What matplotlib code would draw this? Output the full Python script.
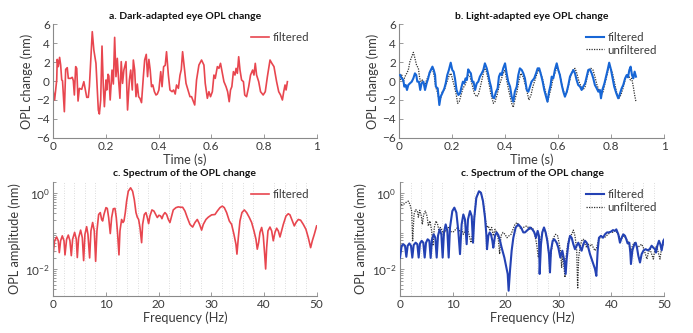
import numpy as np
import matplotlib
matplotlib.use('Agg')
import matplotlib.pyplot as plt
from matplotlib.ticker import MultipleLocator, FixedLocator, LogLocator, NullFormatter

plt.rcParams['font.family'] = ['Lato', 'DejaVu Sans']
plt.rcParams['mathtext.fontset'] = 'custom'
plt.rcParams['mathtext.rm'] = 'Lato'
plt.rcParams['mathtext.it'] = 'Lato:italic'
plt.rcParams['mathtext.bf'] = 'Lato:bold'

# ---------------- data ----------------
# a. dark-adapted eye, filtered OPL change (time s, nm)
a_t = [0.000, 0.005, 0.013, 0.015, 0.019, 0.024, 0.028, 0.032, 0.035, 0.042, 0.047, 0.053, 0.057, 0.066,
       0.072, 0.076, 0.080, 0.085, 0.089, 0.094, 0.099, 0.108, 0.116, 0.127, 0.133, 0.137, 0.148, 0.154,
       0.162, 0.171, 0.175, 0.180, 0.185, 0.190, 0.194, 0.200, 0.203, 0.208, 0.211, 0.216, 0.223, 0.228,
       0.233, 0.238, 0.243, 0.248, 0.253, 0.258, 0.263, 0.268, 0.276, 0.282, 0.289, 0.294, 0.300, 0.304,
       0.309, 0.314, 0.319, 0.324, 0.329, 0.335, 0.342, 0.347, 0.353, 0.358, 0.363, 0.368, 0.373, 0.378,
       0.384, 0.390, 0.395, 0.401, 0.408, 0.413, 0.419, 0.425, 0.430, 0.437, 0.443, 0.451, 0.457, 0.463,
       0.468, 0.475, 0.481, 0.486, 0.491, 0.504, 0.519, 0.525, 0.537, 0.544, 0.553, 0.563, 0.572, 0.577,
       0.585, 0.591, 0.597, 0.604, 0.610, 0.615, 0.623, 0.629, 0.635, 0.642, 0.648, 0.656, 0.662, 0.668,
       0.673, 0.678, 0.684, 0.690, 0.694, 0.699, 0.704, 0.709, 0.715, 0.722, 0.727, 0.734, 0.742, 0.749,
       0.757, 0.762, 0.767, 0.772, 0.780, 0.787, 0.797, 0.805, 0.813, 0.823, 0.830, 0.838, 0.848, 0.856,
       0.863, 0.870, 0.875, 0.880, 0.884, 0.889]
a_filtered = [-1.13, -2.01, 0.11, 2.29, 1.52, 2.50, 1.69, 0.11, 0.04, -3.25, 1.23, 1.41, 0.28, 0.28,
              0.39, 0.04, -1.48, 1.52, 1.34, -2.12, -0.78, -0.88, -0.07, -1.73, -1.73, -0.60, 5.22, 3.28,
              1.87, -3.07, -3.49, -2.01, 3.70, -0.60, -2.72, 0.11, -0.95, 0.71, 0.53, -2.01, 1.16, -0.32,
              4.62, 0.46, 2.40, 0.11, -1.83, 2.05, -0.25, 1.16, 2.05, -3.07, 0.11, 1.16, -0.95, 2.22,
              1.16, -1.66, -0.32, -1.66, -1.83, -2.29, 0.46, 2.22, 2.82, 0.46, 2.29, 1.16, -0.60, -0.42,
              -1.13, -1.48, -1.38, -0.95, 0.99, -0.60, 1.52, 1.66, 3.10, 0.63, -0.95, -1.13, -0.95, -1.38,
              -0.42, -0.78, 0.60, 1.20, 3.10, -0.25, -1.66, -1.66, -2.54, 0.11, 1.69, 2.22, 1.69, -0.25,
              -1.83, -1.13, -1.66, -1.13, 0.63, 0.28, 1.52, 1.34, 1.87, 0.81, -0.07, -0.60, -1.13, -2.19,
              -0.95, -0.60, 0.99, 0.63, 1.34, 0.81, 2.57, 1.16, 0.11, -0.07, -1.48, -1.66, -0.60, 0.63,
              1.16, 0.63, 1.87, 0.63, -0.07, -1.13, -1.48, -1.13, 0.46, 2.22, 1.87, 1.52, -0.07, -1.13,
              -1.48, -2.01, -1.13, -0.42, -0.95, -0.07]

# b. light-adapted eye, filtered (time s, nm)
b_t_f = [0.003, 0.009, 0.015, 0.019, 0.024, 0.029, 0.034, 0.040, 0.047, 0.053, 0.059, 0.064, 0.068, 0.074,
         0.079, 0.084, 0.091, 0.097, 0.103, 0.109, 0.114, 0.119, 0.125, 0.130, 0.135, 0.138, 0.145, 0.151,
         0.156, 0.162, 0.170, 0.175, 0.181, 0.187, 0.194, 0.200, 0.205, 0.210, 0.216, 0.223, 0.229, 0.235,
         0.240, 0.245, 0.250, 0.255, 0.260, 0.265, 0.270, 0.275, 0.280, 0.286, 0.292, 0.298, 0.304, 0.311,
         0.317, 0.323, 0.330, 0.336, 0.341, 0.346, 0.352, 0.358, 0.365, 0.371, 0.376, 0.381, 0.386, 0.392,
         0.399, 0.405, 0.411, 0.418, 0.424, 0.430, 0.436, 0.443, 0.449, 0.455, 0.462, 0.468, 0.474, 0.481,
         0.487, 0.493, 0.499, 0.509, 0.516, 0.522, 0.528, 0.535, 0.541, 0.547, 0.554, 0.559, 0.565, 0.571,
         0.575, 0.581, 0.587, 0.594, 0.600, 0.606, 0.613, 0.619, 0.625, 0.632, 0.638, 0.644, 0.650, 0.657,
         0.663, 0.669, 0.675, 0.682, 0.688, 0.694, 0.701, 0.707, 0.713, 0.719, 0.726, 0.732, 0.738, 0.745,
         0.751, 0.757, 0.761, 0.766, 0.774, 0.780, 0.786, 0.792, 0.799, 0.805, 0.811, 0.819, 0.826, 0.833,
         0.839, 0.845, 0.852, 0.858, 0.863, 0.868, 0.873, 0.878, 0.883, 0.888, 0.893]
b_filtered = [0.63, 0.28, 0.11, -0.60, -0.42, -0.95, -0.42, -0.25, -0.07, 0.28, 0.81, 0.63, -0.07, -0.07,
              -0.95, -0.25, -0.07, -0.95, -0.25, 0.28, 0.88, 1.16, 1.52, 1.16, 0.63, -0.60, -0.78, -2.54,
              -1.66, -1.31, -0.78, -0.25, 0.63, 1.16, 1.94, 1.16, 0.99, 0.28, -0.95, -1.48, -1.31, -0.60,
              -0.07, -0.25, 0.28, 0.11, 1.23, 0.99, 0.81, -0.07, -0.07, -0.95, -0.25, -0.07, 0.46, 0.81,
              1.16, 1.87, 1.34, 0.63, -0.07, -0.60, -1.66, -1.83, -1.13, -0.78, 0.46, 0.81, 0.63, 1.34,
              1.87, 0.81, -0.07, -0.60, -1.66, -2.19, -1.13, -0.60, 0.63, 1.34, 1.16, 0.81, 0.28, -0.95,
              -1.13, -0.60, -0.07, 0.28, 0.81, 1.34, 1.34, 0.63, -0.07, -0.95, -1.66, -2.19, -1.13, -0.42,
              0.46, 0.28, 1.16, 1.87, 1.16, 0.63, -0.42, -1.13, -1.66, -1.13, -0.42, 0.46, 0.81, 1.16,
              0.81, 0.11, -0.42, -0.60, -0.95, -0.60, -0.25, 0.46, 1.16, 1.23, 0.81, 0.28, -0.42, -0.78,
              -1.13, -0.95, -1.83, -0.95, -0.25, 0.46, 1.16, 1.94, 1.16, 0.28, -0.60, -1.31, -1.83, -1.31,
              -0.78, -0.42, 0.28, 0.63, 0.39, 1.16, 1.52, 0.63, 0.28, 0.99, 0.46]

# b. light-adapted eye, unfiltered (time s, nm)
b_t_u = [0.003, 0.009, 0.015, 0.021, 0.028, 0.034, 0.040, 0.047, 0.053, 0.059, 0.065, 0.072, 0.077, 0.082,
         0.087, 0.092, 0.097, 0.103, 0.109, 0.116, 0.122, 0.128, 0.132, 0.137, 0.143, 0.150, 0.156, 0.162,
         0.170, 0.176, 0.182, 0.189, 0.195, 0.200, 0.208, 0.214, 0.220, 0.226, 0.233, 0.240, 0.248, 0.254,
         0.260, 0.267, 0.275, 0.283, 0.292, 0.298, 0.306, 0.313, 0.321, 0.327, 0.336, 0.345, 0.355, 0.361,
         0.369, 0.376, 0.384, 0.392, 0.399, 0.405, 0.414, 0.424, 0.430, 0.436, 0.444, 0.452, 0.459, 0.467,
         0.474, 0.482, 0.489, 0.497, 0.504, 0.512, 0.520, 0.526, 0.532, 0.540, 0.547, 0.555, 0.560, 0.566,
         0.574, 0.580, 0.587, 0.595, 0.603, 0.610, 0.618, 0.625, 0.633, 0.640, 0.648, 0.655, 0.663, 0.670,
         0.678, 0.686, 0.693, 0.701, 0.708, 0.716, 0.723, 0.731, 0.738, 0.746, 0.753, 0.761, 0.769, 0.776,
         0.784, 0.791, 0.799, 0.806, 0.814, 0.821, 0.829, 0.836, 0.844, 0.852, 0.859, 0.867, 0.872, 0.877,
         0.883, 0.888, 0.893]
b_unfiltered = [0.11, 0.63, -0.07, 0.46, 0.81, 1.16, 2.05, 2.57, 3.03, 2.40, 1.69, 1.34, 0.28, -0.07,
                0.11, -0.25, -0.42, 0.11, 0.46, 0.81, 1.34, 0.99, 0.46, -0.60, -1.13, -2.01, -1.83, -1.13,
                -0.95, -0.42, 0.11, 0.63, 0.81, 0.28, -0.60, -1.31, -2.36, -2.19, -1.48, -0.78, -0.42, 0.11,
                0.63, 0.46, -0.42, -1.31, -1.66, -1.48, -0.60, 0.28, 1.34, 1.16, 0.11, -1.31, -2.36, -2.19,
                -1.48, -0.60, 0.11, 0.81, 1.16, 0.11, -1.13, -2.36, -2.79, -2.01, -1.13, 0.11, 0.81, 0.46,
                -0.25, -1.13, -2.01, -1.48, -0.60, 0.11, 0.81, 1.23, 0.99, 0.28, -0.60, -1.48, -2.19, -1.48,
                -0.60, 0.28, 0.81, 1.52, 0.99, 0.11, -0.95, -1.48, -1.13, -0.25, 0.63, 1.16, 1.34, 0.81,
                -0.07, -0.60, -0.95, -0.60, 0.28, 1.23, 1.34, 1.16, 0.46, -0.42, -0.95, -1.48, -1.13, -0.25,
                0.63, 1.52, 1.34, 0.63, -0.42, -1.31, -1.83, -1.48, -0.78, 0.11, 0.63, 0.46, 0.11, 0.28,
                -0.60, -1.48, -2.19]

# c. spectrum, dark-adapted filtered (Hz, log10 of amplitude in nm)
c_f = [0.00, 0.25, 0.63, 0.95, 1.14, 1.39, 1.71, 2.03, 2.22, 2.53, 2.85, 3.16, 3.42, 3.67, 4.05, 4.37, 4.56,
       4.81, 5.19, 5.51, 5.76, 6.01, 6.33, 6.58, 6.90, 7.15, 7.47, 7.78, 8.04, 8.29, 8.61, 8.92, 9.18, 9.37,
       9.62, 10.00, 10.25, 10.51, 10.82, 11.08, 11.39, 11.71, 11.96, 12.22, 12.47, 12.66, 12.97, 13.23, 13.42,
       13.67, 13.92, 14.24, 14.68, 15.06, 15.38, 15.70, 15.95, 16.20, 16.46, 16.77, 16.96, 17.28, 17.59, 17.85,
       18.10, 18.35, 18.73, 19.11, 19.49, 19.75, 20.06, 20.38, 20.63, 20.89, 21.20, 21.52, 21.84, 22.15, 22.47,
       22.78, 23.29, 23.73, 24.18, 24.56, 25.00, 25.44, 25.95, 26.46, 26.90, 27.34, 27.72, 28.16, 28.48, 28.99,
       29.43, 30.06, 30.70, 31.14, 31.65, 32.09, 32.47, 32.91, 33.42, 33.86, 34.30, 34.68, 34.87, 35.13, 35.44,
       35.82, 36.27, 36.71, 37.22, 37.66, 38.10, 38.48, 38.73, 38.99, 39.24, 39.56, 39.87, 40.13, 40.32, 40.51,
       40.76, 41.14, 41.46, 41.77, 42.09, 42.41, 42.72, 43.04, 43.35, 43.67, 44.18, 44.62, 44.94, 45.38, 45.76,
       46.08, 46.52, 46.96, 47.47, 47.97, 48.42, 48.86, 49.18, 49.56, 50.00]
c_log_amp = [-1.56, -1.25, -1.15, -1.25, -1.56, -1.25, -1.12, -1.25, -1.62, -1.21, -1.10, -1.25, -1.64, -1.21,
             -1.03, -1.21, -1.69, -1.17, -0.97, -1.17, -1.77, -1.08, -0.88, -1.08, -1.70, -0.99, -0.77, -0.99,
             -1.79, -0.99, -0.56, -0.51, -0.69, -0.73, -0.56, -0.38, -0.40, -0.64, -1.06, -0.64, -0.41, -0.40,
             -0.64, -1.08, -1.62, -0.99, -0.69, -0.77, -0.73, -0.51, -0.21, 0.05, 0.14, 0.05, -0.17, -0.51,
             -0.63, -0.69, -0.90, -1.30, -0.82, -0.56, -0.51, -0.64, -0.80, -0.60, -0.44, -0.47, -0.57, -0.64,
             -0.58, -0.60, -0.67, -0.57, -0.51, -0.56, -0.69, -0.77, -0.60, -0.44, -0.38, -0.36, -0.37, -0.37,
             -0.47, -0.64, -0.82, -0.89, -0.77, -0.69, -0.80, -0.97, -0.82, -0.69, -0.63, -0.57, -0.56, -0.47,
             -0.38, -0.34, -0.38, -0.51, -0.73, -0.82, -1.08, -1.34, -1.60, -1.17, -0.73, -0.51, -0.44, -0.51,
             -0.64, -0.77, -0.99, -1.21, -1.47, -1.30, -1.03, -0.90, -1.12, -1.60, -1.99, -1.43, -0.99, -0.89,
             -0.99, -1.25, -1.03, -0.92, -0.99, -1.15, -0.99, -0.82, -0.60, -0.54, -0.57, -0.73, -0.86, -0.77,
             -0.69, -0.71, -0.82, -0.95, -1.17, -1.43, -1.25, -1.08, -0.86]

# d. spectrum, light-adapted filtered (Hz, log10 amplitude)
d_f_f = [0.00, 0.32, 0.63, 0.95, 1.20, 1.45, 1.77, 2.08, 2.33, 2.59, 2.96, 3.28, 3.53, 3.78, 4.10, 4.41, 4.67,
         4.92, 5.23, 5.55, 5.80, 6.05, 6.37, 6.68, 6.94, 7.19, 7.50, 7.82, 8.07, 8.32, 8.64, 8.95, 9.21, 9.46,
         9.90, 10.28, 10.66, 11.03, 11.35, 11.66, 11.98, 12.29, 12.61, 12.86, 13.24, 13.56, 13.81, 14.06, 14.44,
         14.94, 15.32, 15.70, 16.08, 16.33, 16.46, 16.71, 16.96, 17.21, 17.47, 17.65, 17.97, 18.28, 18.60, 18.92,
         19.23, 19.74, 20.05, 20.37, 20.55, 20.81, 21.12, 21.44, 21.88, 22.38, 22.89, 23.33, 23.64, 24.27, 24.59,
         25.03, 25.41, 25.73, 26.04, 26.29, 26.42, 26.67, 26.92, 27.24, 27.55, 27.87, 28.18, 28.37, 28.56, 28.88,
         29.19, 29.63, 29.95, 30.33, 30.71, 31.08, 31.34, 31.53, 31.84, 32.16, 32.47, 32.79, 33.10, 33.42, 33.73,
         34.11, 34.36, 34.68, 35.00, 35.31, 35.62, 35.94, 36.25, 36.57, 36.89, 37.14, 37.39, 37.64, 38.02, 38.40,
         38.78, 39.16, 39.53, 39.91, 40.29, 40.67, 40.92, 41.30, 41.61, 41.93, 42.24, 42.56, 42.81, 43.06, 43.38,
         43.57, 43.69, 43.95, 44.33, 44.58, 44.83, 45.08, 45.40, 45.71, 46.09, 46.47, 46.85, 47.23, 47.60, 47.92,
         48.23, 48.42, 48.68, 48.99, 49.24, 49.50, 49.81, 50.00]
d_log_filtered = [-1.69, -1.38, -1.34, -1.38, -1.67, -1.38, -1.32, -1.38, -1.69, -1.36, -1.30, -1.34, -1.69,
                  -1.32, -1.25, -1.30, -1.69, -1.30, -1.21, -1.25, -1.70, -1.21, -1.08, -1.17, -1.69, -1.12,
                  -0.95, -1.08, -1.69, -1.03, -0.82, -0.99, -1.69, -0.90, -0.47, -0.38, -0.51, -0.99, -1.60,
                  -0.82, -0.56, -0.69, -1.34, -0.69, -0.47, -0.60, -1.30, -0.64, -0.12, 0.05, 0.01, -0.21,
                  -0.64, -1.08, -1.47, -1.12, -1.03, -1.08, -1.25, -1.43, -1.12, -1.03, -1.10, -1.25, -1.43,
                  -1.69, -1.90, -2.12, -2.56, -2.03, -1.51, -1.17, -0.90, -0.82, -0.90, -1.03, -1.03, -0.95,
                  -0.90, -0.95, -1.03, -1.17, -0.99, -1.12, -2.12, -1.34, -1.03, -0.90, -1.03, -1.25, -1.60,
                  -2.08, -1.51, -1.25, -1.21, -1.30, -1.43, -1.69, -1.51, -1.77, -2.12, -1.73, -1.34, -1.12,
                  -1.17, -1.34, -1.47, -1.38, -1.30, -1.43, -1.51, -1.34, -1.25, -1.30, -1.43, -1.60, -1.73,
                  -1.86, -1.99, -2.17, -1.51, -1.17, -1.12, -1.17, -1.08, -1.03, -1.03, -1.01, -0.97, -0.99,
                  -0.95, -1.08, -1.30, -1.17, -1.08, -1.12, -1.21, -1.32, -1.30, -1.56, -1.86, -1.51, -1.34,
                  -1.30, -1.43, -1.64, -1.82, -1.60, -1.50, -1.47, -1.50, -1.47, -1.38, -1.43, -1.47, -1.56,
                  -1.38, -1.25, -1.34, -1.50, -1.25, -1.21]

# d. spectrum, light-adapted unfiltered (Hz, log10 amplitude)
d_f_u = [0.00, 0.32, 0.82, 1.26, 1.58, 1.89, 2.21, 2.40, 2.65, 2.96, 3.28, 3.47, 3.72, 4.04, 4.22, 4.48, 4.79,
         5.11, 5.36, 5.67, 5.99, 6.24, 6.49, 6.81, 7.12, 7.38, 7.63, 7.94, 8.26, 8.51, 8.83, 9.14, 9.46, 9.77,
         10.15, 10.53, 10.91, 11.29, 11.66, 11.98, 12.29, 12.67, 13.05, 13.43, 13.75, 14.06, 14.44, 14.94, 15.32,
         15.70, 16.08, 16.39, 16.71, 17.02, 17.34, 17.65, 17.97, 18.28, 18.60, 18.85, 19.10, 19.48, 19.86, 20.24,
         20.62, 21.00, 21.37, 21.75, 22.13, 22.51, 22.89, 23.33, 23.96, 24.27, 24.59, 24.90, 25.22, 25.54, 25.85,
         26.17, 26.48, 26.80, 27.12, 27.43, 27.75, 28.06, 28.37, 28.69, 29.01, 29.45, 29.82, 30.14, 30.39, 30.58,
         30.77, 31.02, 31.21, 31.40, 31.72, 32.03, 32.47, 32.79, 33.10, 33.42, 33.61, 33.80, 34.05, 34.36, 34.68,
         35.00, 35.31, 35.62, 35.94, 36.25, 36.57, 36.89, 37.20, 37.52, 37.83, 38.15, 38.65, 39.03, 39.41, 39.79,
         40.16, 40.54, 40.92, 41.30, 41.68, 42.06, 42.31, 42.69, 43.06, 43.38, 43.69, 43.95, 44.33, 44.64, 44.96,
         45.33, 45.71, 46.03, 46.34, 46.72, 46.97, 47.29, 47.60, 47.92, 48.23, 48.55, 48.86, 49.18, 49.50, 49.81,
         50.00]
d_log_unfiltered = [-0.37, -0.30, -0.28, -0.23, -0.21, -0.30, -0.47, -1.25, -0.56, -0.43, -0.47, -0.63, -0.45,
                    -0.60, -0.82, -0.56, -0.47, -0.60, -0.86, -0.73, -0.99, -1.38, -0.90, -0.73, -0.82, -0.99,
                    -0.90, -0.97, -1.12, -0.99, -0.99, -0.90, -0.99, -1.02, -1.01, -0.95, -0.90, -0.99, -0.95,
                    -1.08, -0.99, -0.90, -1.08, -1.30, -1.03, -0.64, -0.12, 0.05, 0.01, -0.21, -0.60, -0.90,
                    -0.86, -0.99, -0.90, -1.12, -0.95, -1.03, -1.21, -1.60, -1.12, -1.03, -1.08, -1.17, -1.12,
                    -1.08, -0.95, -0.82, -0.77, -0.86, -0.95, -0.90, -0.86, -0.90, -0.95, -0.90, -0.95, -1.12,
                    -1.34, -1.69, -1.34, -1.08, -0.95, -0.99, -1.17, -1.47, -1.77, -1.47, -1.17, -1.08, -1.12,
                    -1.34, -1.56, -1.95, -1.60, -1.95, -2.21, -1.69, -1.34, -1.17, -1.08, -0.97, -1.12, -1.47,
                    -2.51, -1.69, -1.43, -1.25, -1.21, -1.34, -1.43, -1.34, -1.38, -1.34, -1.43, -1.51, -1.43,
                    -1.25, -1.17, -1.12, -1.17, -1.12, -1.08, -1.01, -1.03, -0.99, -1.01, -1.08, -1.21, -1.17,
                    -1.12, -1.17, -1.25, -1.38, -1.56, -1.38, -1.30, -1.34, -1.43, -1.38, -1.34, -1.43, -1.56,
                    -1.73, -1.56, -1.47, -1.60, -1.73, -1.47, -1.38, -1.56, -1.73, -1.43, -1.34, -1.30]

time_ticks = [0, 0.2, 0.4, 0.6, 0.8, 1]
time_tick_labels = ['0', '0.2', '0.4', '0.6', '0.8', '1']
opl_ticks = [-6, -4, -2, 0, 2, 4, 6]
freq_ticks = [0, 10, 20, 30, 40, 50]

titles = ['a. Dark-adapted eye OPL change', 'b. Light-adapted eye OPL change',
          'c. Spectrum of the OPL change', 'c. Spectrum of the OPL change']

# ---------------- styling ----------------
RED = '#E8464F'
BLUE_B = '#1766D6'
BLUE_D = '#2442B4'
DOT = '#303030'
AX_COL = '#8a8a8a'
TXT_COL = '#3a3a3a'
FS_TICK = 8.5
FS_LEG = 8.3
FS_LAB = 9.2
FS_TITLE = 7.5

fig = plt.figure(figsize=(6.93, 3.33), dpi=100)
ax_a = fig.add_axes([0.0769, 0.5865, 0.3800, 0.3405])
ax_b = fig.add_axes([0.5762, 0.5865, 0.3824, 0.3405])
ax_c = fig.add_axes([0.0769, 0.1111, 0.3800, 0.3433])
ax_d = fig.add_axes([0.5772, 0.1111, 0.3814, 0.3433])


def base_style(ax):
    for s in ['top', 'right']:
        ax.spines[s].set_visible(False)
    for s in ['left', 'bottom']:
        ax.spines[s].set_color(AX_COL)
        ax.spines[s].set_linewidth(0.8)
    ax.tick_params(which='both', direction='in', color=AX_COL, labelcolor=TXT_COL,
                   labelsize=FS_TICK, width=0.6, pad=2.5)
    ax.tick_params(which='major', length=3)
    ax.tick_params(which='minor', length=1.8)


def time_axes(ax, title):
    base_style(ax)
    ax.set_xlim(0, 1)
    ax.set_ylim(-6, 6)
    ax.set_xticks(time_ticks)
    ax.set_xticklabels(time_tick_labels)
    ax.set_yticks(opl_ticks)
    ax.set_xlabel('Time (s)', fontsize=FS_LAB, color=TXT_COL, labelpad=1)
    ax.set_ylabel('OPL change (nm)', fontsize=FS_LAB, color=TXT_COL, labelpad=2)
    ax.set_title(title, fontsize=FS_TITLE, fontweight='bold', color='#111111', pad=4)


def spec_axes(ax, title):
    base_style(ax)
    ax.set_xlim(0, 50)
    ax.set_yscale('log')
    ax.set_ylim(0.002, 2)
    ax.set_xticks(freq_ticks)
    ax.xaxis.set_minor_locator(MultipleLocator(2))
    ax.tick_params(axis='x', which='minor', length=0)
    ax.yaxis.set_major_locator(FixedLocator([0.01, 1]))
    ax.yaxis.set_minor_locator(LogLocator(base=10, subs=np.arange(2, 10)))
    ax.yaxis.set_minor_formatter(NullFormatter())
    ax.grid(which='minor', axis='x', linestyle=(0, (1, 2)), color='#d0d0d0', linewidth=0.6)
    ax.set_axisbelow(True)
    ax.set_xlabel('Frequency (Hz)', fontsize=FS_LAB, color=TXT_COL, labelpad=1)
    ax.set_ylabel('OPL amplitude (nm)', fontsize=FS_LAB, color=TXT_COL, labelpad=3)
    ax.set_title(title, fontsize=FS_TITLE, fontweight='bold', color='#111111', pad=4)


def legend(ax):
    ax.legend(loc='upper right', bbox_to_anchor=(1.0, 1.0), frameon=False, fontsize=FS_LEG,
              handlelength=1.6, handletextpad=0.3, labelspacing=0.15, borderaxespad=0.25,
              labelcolor=TXT_COL)


# a
ax_a.plot(a_t, a_filtered, color=RED, lw=1.2, label='filtered')
time_axes(ax_a, titles[0])
legend(ax_a)

# b
ax_b.plot(b_t_f, b_filtered, color=BLUE_B, lw=1.5, label='filtered', zorder=3)
ax_b.plot(b_t_u, b_unfiltered, color=DOT, lw=0.9, ls=(0, (1, 1)), label='unfiltered', zorder=2)
time_axes(ax_b, titles[1])
legend(ax_b)

# c
ax_c.plot(c_f, np.power(10.0, c_log_amp), color=RED, lw=1.2, label='filtered')
spec_axes(ax_c, titles[2])
legend(ax_c)

# d
ax_d.plot(d_f_f, np.power(10.0, d_log_filtered), color=BLUE_D, lw=1.5, label='filtered', zorder=3)
ax_d.plot(d_f_u, np.power(10.0, d_log_unfiltered), color=DOT, lw=0.9, ls=(0, (1, 1)),
          label='unfiltered', zorder=2)
spec_axes(ax_d, titles[3])
legend(ax_d)

fig.savefig('out.png', dpi=100)
